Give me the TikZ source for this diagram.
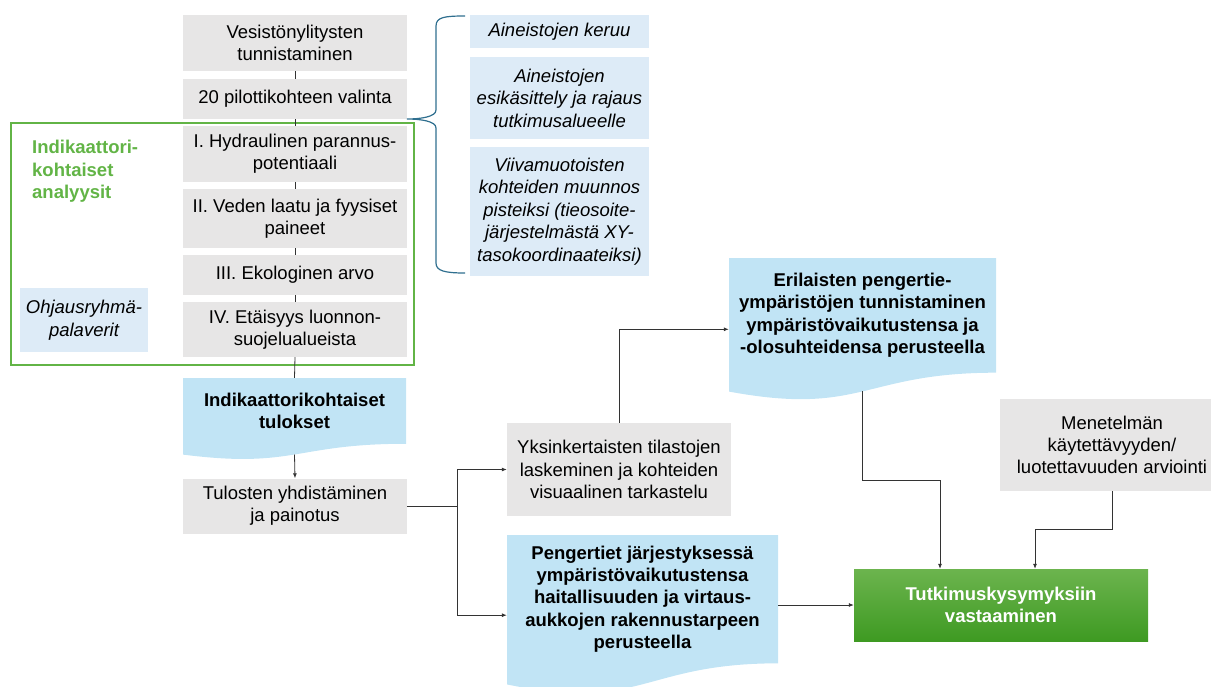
\documentclass[tikz,border=0pt]{standalone}
\usepackage{fontspec}
\setmainfont{Liberation Sans}
\usetikzlibrary{arrows.meta}
\definecolor{boxgray}{HTML}{E7E6E6}
\definecolor{docblue}{HTML}{C1E4F5}
\definecolor{paleblue}{HTML}{DDEBF7}
\definecolor{framegreen}{RGB}{98,180,70}
\definecolor{bracecol}{HTML}{2F6F8F}
\definecolor{tuttop}{RGB}{108,180,78}
\definecolor{tutbot}{RGB}{62,154,34}
\newcommand\docfill[5]{\fill[#5] (#1,#3) -- (#2,#3) -- (#2,{#3+0.802*#4}) .. controls ({(#1+#2)/2},{#3+0.802*#4}) and ({(#1+#2)/2},{#3+1.107*#4}) .. (#1,{#3+0.934*#4}) -- cycle;}
\begin{document}
\begin{tikzpicture}[x=1pt,y=-1pt,
  font=\fontsize{18.5}{22.3}\selectfont,
  graybox/.style={fill=boxgray, inner sep=0pt, align=center, minimum width=224pt},
  palebox/.style={fill=paleblue, inner sep=0pt, align=center, minimum width=179pt, font=\fontsize{18.5}{22.6}\selectfont\itshape},
  doctext/.style={inner sep=0pt, align=center, font=\fontsize{18.5}{22.3}\selectfont\bfseries},
  conn/.style={draw=black!80, line width=0.8pt},
  arr/.style={conn, -{Latex[length=5pt,width=4pt]}}]
\useasboundingbox (0,0) rectangle (1211,686);
\clip (0,0) rectangle (1211,686);

% left column gray boxes
\node[graybox, minimum height=56pt] (b1) at (295,43) {Vesistönylitysten\\tunnistaminen};
\node[graybox, minimum height=40pt] (b2) at (295,99) {20 pilottikohteen valinta};
\node[graybox, minimum height=56pt] (b3) at (295,154) {I. Hydraulinen parannus-\\potentiaali};
\node[graybox, minimum height=59pt] (b4) at (295,218.5) {II. Veden laatu ja fyysiset\\paineet};
\node[graybox, minimum height=40pt] (b5) at (295,275) {III. Ekologinen arvo};
\node[graybox, minimum height=55pt] (b6) at (295,329.5) {IV. Etäisyys luonnon-\\suojelualueista};

% green frame
\node[draw=framegreen, line width=1.5pt, inner sep=0pt, minimum width=403pt, minimum height=242pt] (frame) at (212.5,244) {};
\node[anchor=west, align=left, inner sep=0pt, text=framegreen, font=\fontsize{18.5}{22.5}\selectfont\bfseries] (ind) at (32,171.5) {Indikaattori-\\kohtaiset\\analyysit};
\node[palebox, minimum width=128pt, minimum height=64pt] (ohj) at (84,320) {Ohjausryhmä-\\palaverit};

% brace
\draw[bracecol, line width=1.2pt] (465,16) .. controls (445,16) and (436,17) .. (436,26) -- (436,110) .. controls (436,117) and (420,119) .. (407,119) .. controls (420,119) and (436,121) .. (436,128) -- (436,263) .. controls (436,271) and (445,273) .. (465,273);

% pale blue boxes
\node[palebox, minimum height=33pt] (pa) at (559.5,31.5) {Aineistojen keruu};
\node[palebox, minimum height=82pt] (pb) at (559.5,98) {Aineistojen\\esikäsittely ja rajaus\\tutkimusalueelle};
\node[palebox, minimum height=129pt] (pc) at (559.5,211.5) {Viivamuotoisten\\kohteiden muunnos\\pisteiksi (tieosoite-\\järjestelmästä XY-\\tasokoordinaateiksi)};

% document shapes
\docfill{183}{406}{378}{82}{docblue}
\node[doctext, minimum width=223pt, minimum height=65.8pt] (itr) at (294.5,410.9) {Indikaattorikohtaiset\\tulokset};
\coordinate (itrbot) at (294.5,454.5);

\docfill{729}{996}{258}{143}{docblue}
\node[doctext, minimum width=267pt, minimum height=114.7pt] (eril) at (862.5,315.3) {Erilaisten pengertie-\\ympäristöjen tunnistaminen\\ympäristövaikutustensa ja\\-olosuhteidensa perusteella};
\coordinate (erilbot) at (862.5,391);

\docfill{507}{778}{535}{160}{docblue}
\node[doctext, minimum width=271pt, minimum height=128.3pt] (peng) at (642.5,599.2) {Pengertiet järjestyksessä\\ympäristövaikutustensa\\haitallisuuden ja virtaus-\\aukkojen rakennustarpeen\\perusteella};

% other boxes
\node[graybox, minimum height=55pt] (tul) at (295,506) {Tulosten yhdistäminen\\ja painotus};
\node[graybox, minimum height=93pt] (yks) at (619,469.5) {Yksinkertaisten tilastojen\\laskeminen ja kohteiden\\visuaalinen tarkastelu};
\node[graybox, minimum height=92pt] (men) at (1112,445) {Menetelmän\\käytettävyyden/\\luotettavuuden arviointi};
\node[top color=tuttop, bottom color=tutbot, inner sep=0pt, minimum width=294pt, minimum height=72pt, align=center, text=white, font=\fontsize{18.5}{22.5}\selectfont\bfseries] (tut) at (1001,605) {Tutkimuskysymyksiin\\vastaaminen};

% connectors
\draw[conn] (b1.south) -- (b2.north);
\draw[conn] (b2.south) -- (b3.north);
\draw[conn] (b3.south) -- (b4.north);
\draw[conn] (b4.south) -- (b5.north);
\draw[conn] (b5.south) -- (b6.north);
\draw[conn] (b6.south) -- (itr.north);
\draw[arr] (itrbot) -- (tul.north);
\draw[arr] (tul.east) -- ++(50,0) |- (yks.west);
\draw[arr] (tul.east) -- ++(50,0) |- ([yshift=-16pt]peng.west);
\draw[arr] (yks.north) |- ([yshift=-14pt]eril.west);
\draw[arr] (erilbot) -- ++(0,89) -| ([xshift=-61pt]tut.north);
\draw[arr] (men.south) -- ++(0,38) -| ([xshift=34pt]tut.north);
\draw[arr] (peng.east |- tut.west) -- (tut.west);
\end{tikzpicture}
\end{document}
